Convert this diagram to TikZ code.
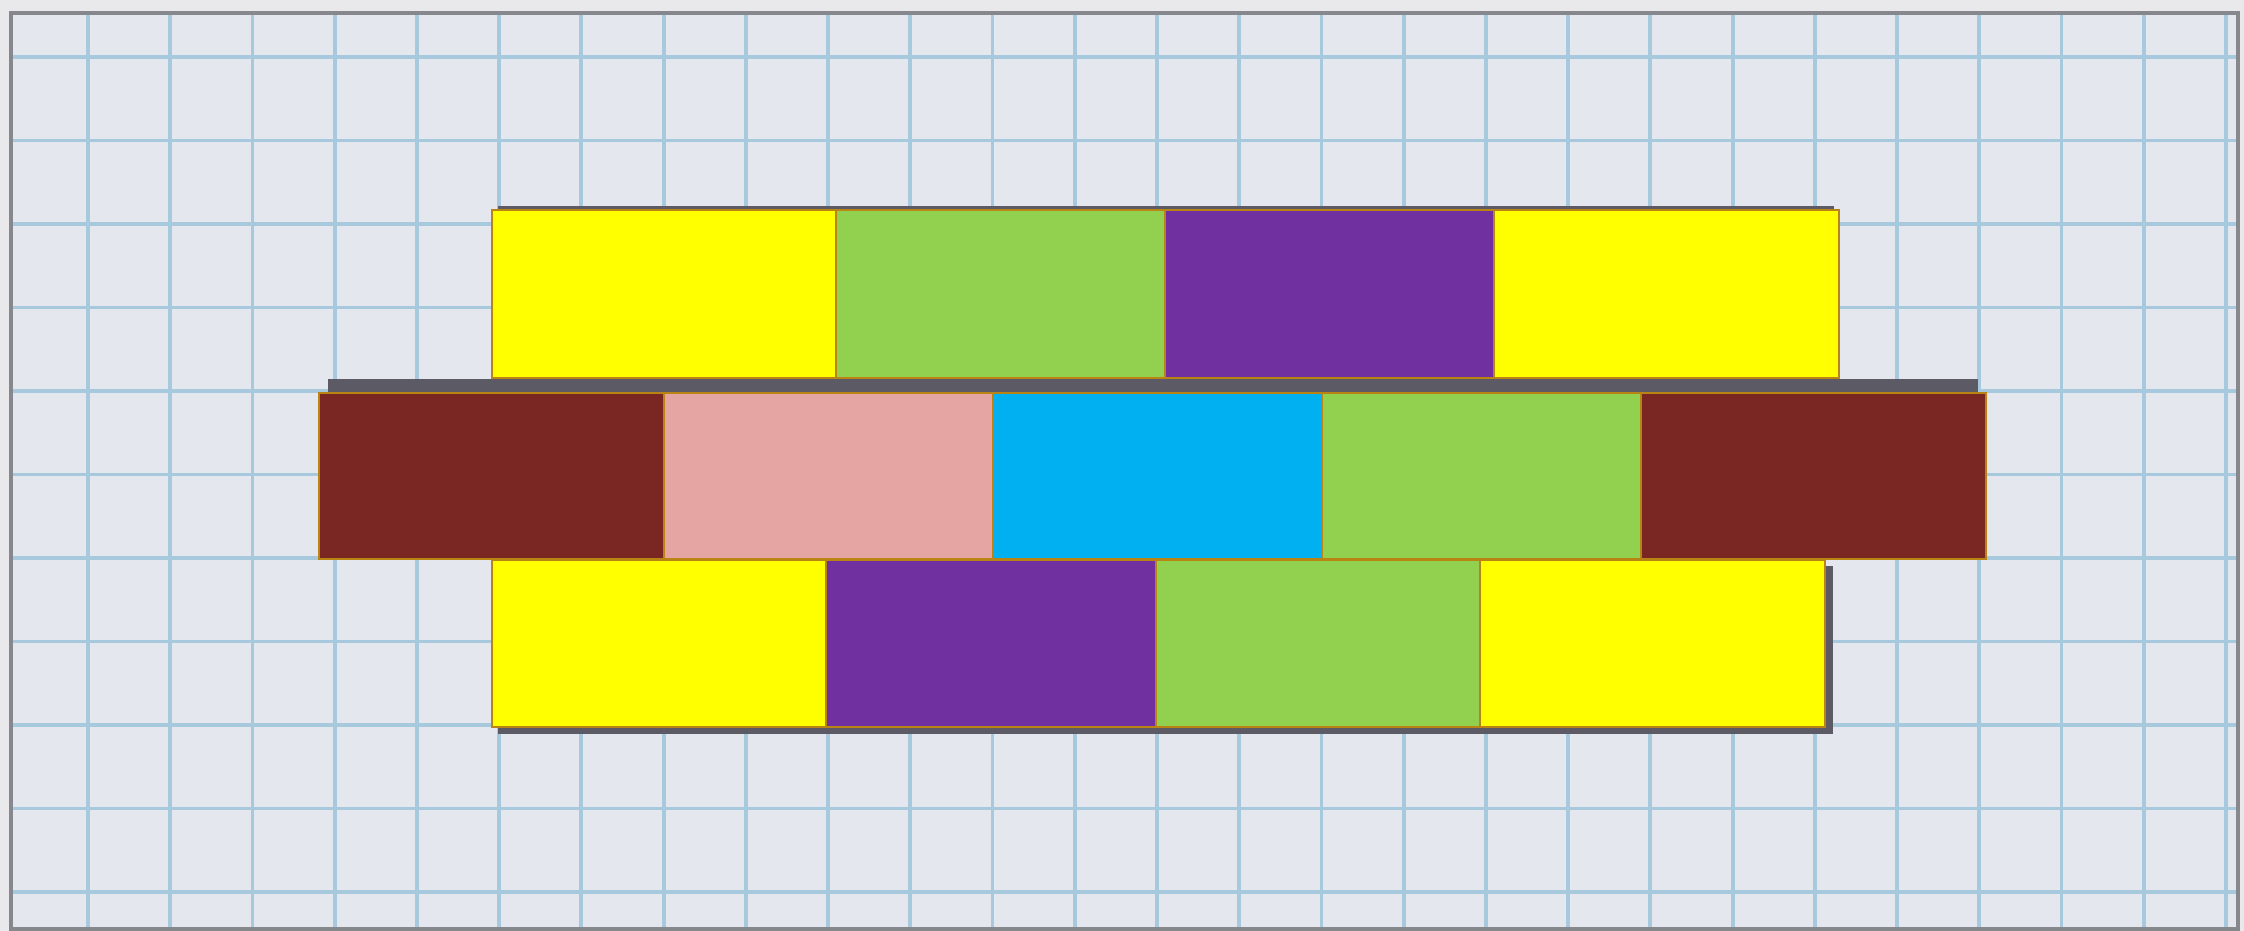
\documentclass[tikz,border=0pt]{standalone}
\definecolor{outsidec}{RGB}{233,233,235}
\definecolor{paperc}{RGB}{228,231,237}
\definecolor{gridc}{RGB}{166,201,222}
\definecolor{framec}{RGB}{135,136,142}
\definecolor{shadowc}{RGB}{92,90,100}
\definecolor{borderc}{RGB}{186,132,20}
\definecolor{yellowc}{RGB}{255,255,0}
\definecolor{greenc}{RGB}{146,208,80}
\definecolor{purplec}{RGB}{112,48,160}
\definecolor{brownc}{RGB}{122,39,36}
\definecolor{pinkc}{RGB}{229,166,163}
\definecolor{cyanc}{RGB}{0,176,240}
\begin{document}
\begin{tikzpicture}[x=0.01cm,y=-0.01cm,
  gridline/.style={draw=gridc,line width=1.1pt},
  paperframe/.style={draw=framec,line width=0.9pt},
  brickshadow/.style={fill=shadowc},
  brick/.style={draw=borderc,line width=0.6pt}]
\useasboundingbox (0,0) rectangle (2244,931);
\fill[outsidec] (0,0) rectangle (2244,931);
\fill[paperc] (11,13) rectangle (2238,929);
% grid
\foreach \k in {0,...,26} {
  \draw[gridline] ({88+82.23*\k},14) -- ({88+82.23*\k},928);
}
\foreach \k in {0,...,10} {
  \draw[gridline] (12,{57+83.5*\k}) -- (2237,{57+83.5*\k});
}
\draw[paperframe] (11,13) rectangle (2238,929);
% shadows
\fill[brickshadow] (498,206) rectangle (1834,370);
\fill[brickshadow] (328,379) rectangle (1978,550);
\fill[brickshadow] (498,566) rectangle (1833,734);
% top row
\draw[brick,fill=yellowc] (492,210) rectangle (836,378);
\draw[brick,fill=greenc] (836,210) rectangle (1165,378);
\draw[brick,fill=purplec] (1165,210) rectangle (1494,378);
\draw[brick,fill=yellowc] (1494,210) rectangle (1839,378);
% middle row
\draw[brick,fill=brownc] (319,393) rectangle (664,559);
\draw[brick,fill=pinkc] (664,393) rectangle (993,559);
\draw[brick,fill=cyanc] (993,393) rectangle (1322,559);
\draw[brick,fill=greenc] (1322,393) rectangle (1641,559);
\draw[brick,fill=brownc] (1641,393) rectangle (1986,559);
% bottom row
\draw[brick,fill=yellowc] (492,560) rectangle (826,727);
\draw[brick,fill=purplec] (826,560) rectangle (1156,727);
\draw[brick,fill=greenc] (1156,560) rectangle (1480,727);
\draw[brick,fill=yellowc] (1480,560) rectangle (1825,727);
\end{tikzpicture}
\end{document}
